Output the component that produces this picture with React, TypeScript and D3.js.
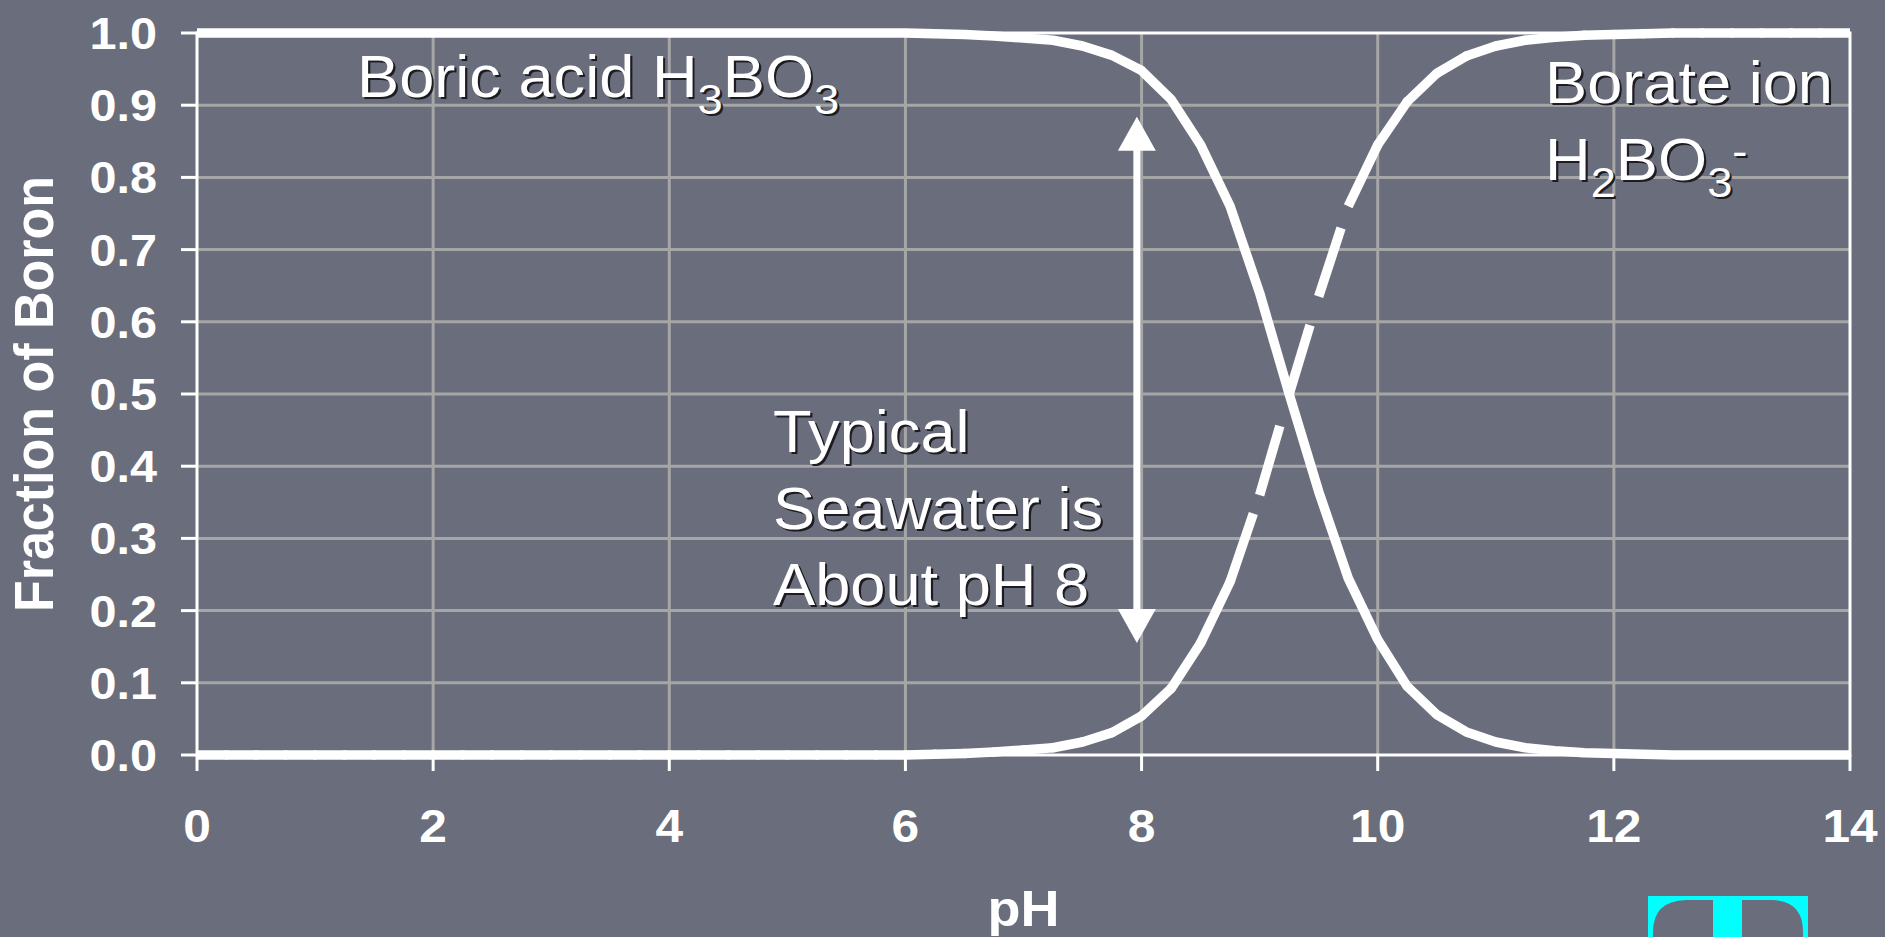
import React from "react";
import * as d3 from "d3";

// ---- data ----
const pH = [
  0, 0.25, 0.5, 0.75, 1, 1.25, 1.5, 1.75, 2, 2.25, 2.5, 2.75, 3, 3.25, 3.5, 3.75,
  4, 4.25, 4.5, 4.75, 5, 5.25, 5.5, 5.75, 6, 6.25, 6.5, 6.75, 7, 7.25, 7.5, 7.75,
  8, 8.25, 8.5, 8.75, 9, 9.25, 9.5, 9.75, 10, 10.25, 10.5, 10.75, 11, 11.25, 11.5,
  11.75, 12, 12.25, 12.5, 12.75, 13, 13.25, 13.5, 13.75, 14,
];
const boricAcid = [
  1, 1, 1, 1, 1, 1, 1, 1, 1, 1, 1, 1, 1, 1, 1, 1,
  1, 1, 1, 1, 1, 1, 1, 1, 1, 0.999, 0.998, 0.996, 0.993, 0.99, 0.982, 0.969,
  0.948, 0.908, 0.845, 0.76, 0.64, 0.5, 0.365, 0.245, 0.16, 0.095, 0.056, 0.032, 0.018, 0.01, 0.006,
  0.003, 0.002, 0.001, 0, 0, 0, 0, 0, 0, 0,
];
const borateIon = [
  0, 0, 0, 0, 0, 0, 0, 0, 0, 0, 0, 0, 0, 0, 0, 0,
  0, 0, 0, 0, 0, 0, 0, 0, 0, 0.001, 0.002, 0.004, 0.007, 0.01, 0.018, 0.031,
  0.054, 0.092, 0.155, 0.24, 0.36, 0.5, 0.635, 0.76, 0.845, 0.905, 0.944, 0.968, 0.982, 0.99, 0.994,
  0.997, 0.998, 0.999, 1, 1, 1, 1, 1, 1, 1,
];
const xTicks = [0, 2, 4, 6, 8, 10, 12, 14];
const yTicks = [0, 0.1, 0.2, 0.3, 0.4, 0.5, 0.6, 0.7, 0.8, 0.9, 1.0];
const yTickLabels = ["0.0", "0.1", "0.2", "0.3", "0.4", "0.5", "0.6", "0.7", "0.8", "0.9", "1.0"];
const seawaterArrow = { pH: 7.96, from: 0.155, to: 0.884 };

// ---- layout ----
const W = 1885;
const H = 937;
const PL = 197, PR = 1850, PT = 33, PB = 755;
const BG = "#6a6d7c";
const GRID = "#a6a6a6";
const FONT = "'Liberation Sans', Arial, Helvetica, sans-serif";
const SX = 1.08; // horizontal stretch of the original slide

function SText({ x, y, anchor = "start", size, weight = "normal", shadow = false, children }: any) {
  return (
    <g transform={`translate(${x},${y}) scale(${SX},1)`}>
      {shadow && (
        <text x={2} y={2} fill="#1c1c22" fontSize={size} fontWeight={weight} textAnchor={anchor} fontFamily={FONT}>
          {children}
        </text>
      )}
      <text x={0} y={0} fill="#ffffff" fontSize={size} fontWeight={weight} textAnchor={anchor} fontFamily={FONT}>
        {children}
      </text>
    </g>
  );
}

export default function App() {
  const x = d3.scaleLinear().domain([0, 14]).range([PL, PR]);
  const y = d3.scaleLinear().domain([0, 1]).range([PB, PT]);

  const boricPts: [number, number][] = pH.map((p, i) => [x(p), y(boricAcid[i])]);
  const boratePts: [number, number][] = pH.map((p, i) => [x(p), y(borateIon[i])]);
  const line = d3.line();

  const DASH = 72;
  const LW = 9.5;
  // borate: long-dash pattern restarting at every data point (as in the original)
  const borateSegs = boratePts.slice(0, -1).map((p, i) => [p, boratePts[i + 1]] as [number, number][]);
  const segLen = (s: [number, number][]) => Math.hypot(s[1][0] - s[0][0], s[1][1] - s[0][1]);

  const ax = x(seawaterArrow.pH);
  const aTop = y(seawaterArrow.to);
  const aBot = y(seawaterArrow.from);
  const headL = 34, headW = 19;

  const sub = 42;
  const lab = 58.5;

  return (
    <svg width={W} height={H} style={{ position: "absolute", left: 0, top: 0, display: "block" }}>
      <rect x={0} y={0} width={W} height={H} fill={BG} />

      {/* gridlines */}
      {xTicks.filter((t) => t > 0 && t < 14).map((t) => (
        <line key={"gx" + t} x1={x(t)} x2={x(t)} y1={PT} y2={PB} stroke={GRID} strokeWidth={3} />
      ))}
      {yTicks.filter((t) => t > 0 && t < 1).map((t) => (
        <line key={"gy" + t} x1={PL} x2={PR} y1={y(t)} y2={y(t)} stroke={GRID} strokeWidth={3} />
      ))}

      {/* plot border / axes */}
      <rect x={PL} y={PT} width={PR - PL} height={PB - PT} fill="none" stroke="#ffffff" strokeWidth={3} />
      {xTicks.map((t) => (
        <line key={"tx" + t} x1={x(t)} x2={x(t)} y1={PB} y2={PB + 16} stroke="#ffffff" strokeWidth={3} />
      ))}
      {yTicks.map((t) => (
        <line key={"ty" + t} x1={PL - 16} x2={PL} y1={y(t)} y2={y(t)} stroke="#ffffff" strokeWidth={3} />
      ))}

      {/* tick labels */}
      {xTicks.map((t) => (
        <SText key={"lx" + t} x={x(t)} y={842} anchor="middle" size={46} weight="bold">
          {String(t)}
        </SText>
      ))}
      {yTicks.map((t, i) => (
        <SText key={"ly" + t} x={157} y={y(t) + 16} anchor="end" size={45} weight="bold">
          {yTickLabels[i]}
        </SText>
      ))}

      {/* axis titles */}
      <g transform={`translate(53,${(PT + PB) / 2}) scale(${SX},1) rotate(-90)`}>
        <text x={0} y={0} fill="#fff" fontSize={52} fontWeight="bold" textAnchor="middle" fontFamily={FONT}>
          Fraction of Boron
        </text>
      </g>
      <SText x={(PL + PR) / 2} y={926} anchor="middle" size={50} weight="bold">
        pH
      </SText>

      {/* boric acid: solid */}
      <path d={line(boricPts) || ""} fill="none" stroke="#ffffff" strokeWidth={LW} strokeLinejoin="round" />

      {/* borate ion: dashed per segment */}
      {borateSegs.map((s, i) => (
        <path
          key={"bs" + i}
          d={line(s) || ""}
          fill="none"
          stroke="#ffffff"
          strokeWidth={LW}
          strokeDasharray={`${DASH} 400`}
          strokeLinecap="butt"
        />
      ))}
      {borateSegs.slice(0, -1).map((s, i) =>
        segLen(s) <= DASH ? (
          <circle key={"bj" + i} cx={s[1][0]} cy={s[1][1]} r={LW / 2} fill="#ffffff" />
        ) : null
      )}

      {/* seawater arrow */}
      <line x1={ax} x2={ax} y1={aTop + headL - 2} y2={aBot - headL + 2} stroke="#fff" strokeWidth={7} />
      <polygon points={`${ax},${aTop} ${ax - headW},${aTop + headL} ${ax + headW},${aTop + headL}`} fill="#fff" />
      <polygon points={`${ax},${aBot} ${ax - headW},${aBot - headL} ${ax + headW},${aBot - headL}`} fill="#fff" />

      {/* annotations */}
      <SText x={357} y={97} size={lab} shadow>
        Boric acid H<tspan fontSize={sub} dy={17}>3</tspan>
        <tspan dy={-17}>BO</tspan>
        <tspan fontSize={sub} dy={17}>3</tspan>
      </SText>
      <SText x={1545} y={103} size={lab} shadow>
        Borate ion
      </SText>
      <SText x={1545} y={180} size={lab} shadow>
        H<tspan fontSize={sub} dy={17}>2</tspan>
        <tspan dy={-17}>BO</tspan>
        <tspan fontSize={sub} dy={17}>3</tspan>
        <tspan fontSize={sub} dy={-31}>-</tspan>
      </SText>
      <SText x={773} y={452} size={lab} shadow>
        Typical
      </SText>
      <SText x={773} y={529} size={lab} shadow>
        Seawater is
      </SText>
      <SText x={773} y={605} size={lab} shadow>
        About pH 8
      </SText>

      {/* logo fragment bottom right */}
      <rect x={1648} y={896} width={160} height={41} fill="#00ffff" />
      <path d="M1653,937 L1653,932 Q1653,901 1686,900 L1713,900 L1713,937 Z" fill={BG} />
      <path d="M1742,937 L1742,900 L1772,900 Q1803,901 1803,932 L1803,937 Z" fill={BG} />
    </svg>
  );
}
